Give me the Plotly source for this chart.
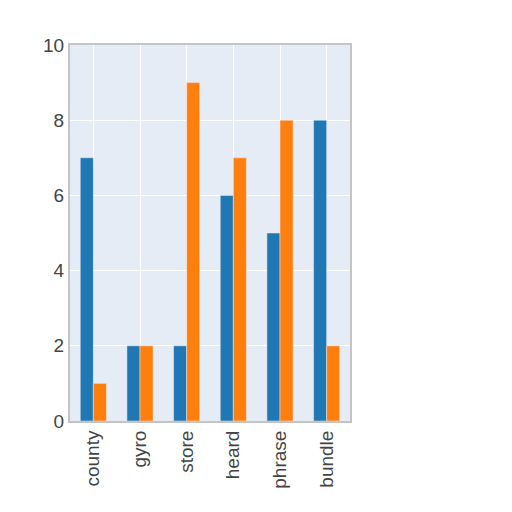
import plotly.graph_objects as go

# Data
categories = ["county", "gyro", "store", "heard", "phrase", "bundle"]
series_a = [7, 2, 2, 6, 5, 8]
series_b = [1, 2, 9, 7, 8, 2]
y_ticks = [0, 2, 4, 6, 8, 10]

fig = go.Figure()
fig.add_trace(go.Bar(x=categories, y=series_a, marker_color="#1f77b4", name="a"))
fig.add_trace(go.Bar(x=categories, y=series_b, marker_color="#ff7f0e", name="b"))

fig.update_layout(
    width=512,
    height=512,
    barmode="group",
    bargap=0.44,
    bargroupgap=0,
    showlegend=False,
    paper_bgcolor="white",
    plot_bgcolor="#e5ecf6",
    margin=dict(l=62, r=170, t=37, b=99),
    font=dict(family="Liberation Sans, Arial", size=19, color="#444"),
)
fig.update_xaxes(
    tickangle=-90,
    showgrid=True,
    gridcolor="white",
    showline=True,
    linecolor="#c4c4c4",
    linewidth=2,
    mirror=True,
    ticks="",
    automargin=False,
)
fig.update_yaxes(
    range=[0, 10],
    tickvals=y_ticks,
    showgrid=True,
    gridcolor="white",
    showline=True,
    linecolor="#c4c4c4",
    linewidth=2,
    mirror=True,
    zeroline=False,
    automargin=False,
)

fig.write_html("out.html")
